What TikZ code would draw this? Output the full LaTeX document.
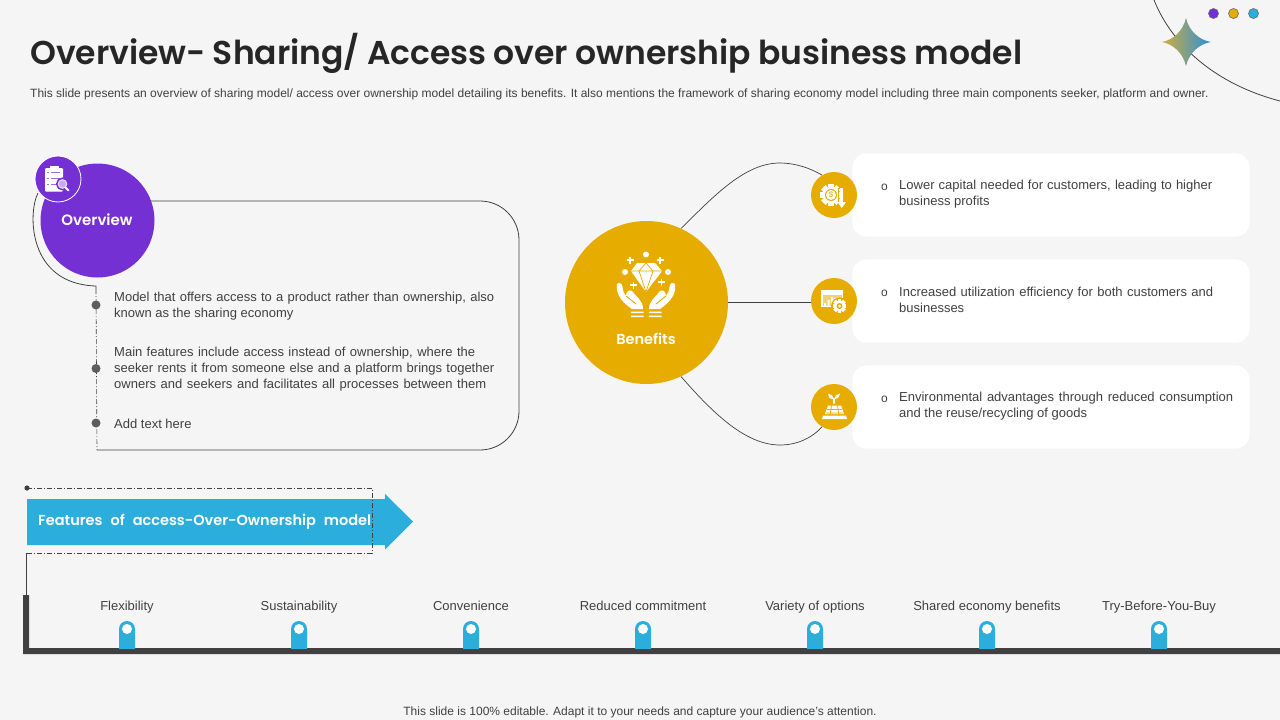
\documentclass[tikz,border=0pt]{standalone}
\usepackage{fontspec}
\setmainfont{Liberation Sans}
\newfontfamily\headfont{Poppins}[BoldFont={Poppins SemiBold}]
\usetikzlibrary{calc}
\definecolor{bg}{HTML}{F5F5F5}
\definecolor{ink}{HTML}{404040}
\definecolor{titleink}{HTML}{262626}
\definecolor{purp}{HTML}{7430D2}
\definecolor{gold}{HTML}{E7AC00}
\definecolor{sky}{HTML}{2CAEDD}
\definecolor{starl}{HTML}{D2AE3C}
\definecolor{starm}{HTML}{55B2A4}
\definecolor{starr}{HTML}{2A8FDC}
\newcommand{\fs}[1]{\fontsize{#1}{#1}\selectfont}
\newcommand{\jl}[2]{\makebox[#1pt][s]{#2}}
\newcommand{\gearshape}[4]{% x y r colour
  \fill[#4] (#1,#2) circle (#3);
  \foreach \a in {0,45,...,315}{\fill[#4,rotate around={\a:(#1,#2)}] (#1-0.36*#3,#2-1.28*#3) rectangle (#1+0.36*#3,#2-0.7*#3);}
}
\tikzset{
  x=1pt,y=-1pt,
  txt/.style={anchor=west,inner sep=0pt,text=ink,font=\fs{13}},
  ctr/.style={anchor=base,inner sep=0pt,text=ink,font=\fs{13}},
  conn/.style={draw=ink,line width=0.8pt},
  ddash/.style={draw=ink,line width=0.6pt,dash pattern=on 5pt off 2pt on 1pt off 2pt},
  bigc/.style={circle,inner sep=0pt,minimum size=#1},
  card/.style={fill=white,draw=black!4,line width=0.8pt,rounded corners=14pt},
  dotb/.style={circle,fill=ink!85,inner sep=0pt,minimum size=9pt},
  pinb/.style={fill=sky},
}
\begin{document}
\begin{tikzpicture}
\useasboundingbox (0,0) rectangle (1280,720);
\fill[bg] (0,0) rectangle (1280,720);

% header
\node[anchor=west,inner sep=0pt,text=titleink,font=\headfont\bfseries\fs{33}] (title) at (30,53) {\jl{992}{Overview- Sharing/ Access over ownership business model}};
\node[anchor=west,inner sep=0pt,text=ink,font=\fs{12}] (sub) at (30,94) {This slide presents an overview of sharing model/ access over ownership model detailing its benefits. It also mentions the framework of sharing economy model including three main components seeker, platform and owner.};
\draw[ink,line width=0.8pt] (1154,0) .. controls (1172,45) and (1215,84) .. (1280,101);
\shade[left color=starl,middle color=starm,right color=starr] (1162,42) .. controls (1173,40) and (1183,31) .. (1186,18) .. controls (1189,31) and (1199,40) .. (1211,42) .. controls (1199,44) and (1189,53) .. (1186,66) .. controls (1183,53) and (1173,44) .. (1162,42) -- cycle;
\node[circle,fill=purp,draw=black!60,line width=0.6pt,inner sep=0pt,minimum size=10pt] (d1) at (1213.5,13.5) {};
\node[circle,fill=gold,draw=black!60,line width=0.6pt,inner sep=0pt,minimum size=10pt] (d2) at (1233.5,13.5) {};
\node[circle,fill=sky,draw=black!60,line width=0.6pt,inner sep=0pt,minimum size=10pt] (d3) at (1253.5,13.5) {};

% overview panel
\node[bigc=114pt,fill=purp] (ov) at (97.5,220.5) {};
\node[text=white,inner sep=0pt,font=\headfont\bfseries\fs{15}] (ovt) at (97,220) {Overview};
\coordinate (pa) at (150,201);
\coordinate (pb) at (97,450);
\coordinate (arcs) at (38,193);
\coordinate (arce) at (96,286);
\draw[conn] (pa) -- (480,201) arc[start angle=-90,end angle=0,radius=39] -- (519,411) arc[start angle=0,end angle=90,radius=39] -- (pb);
\draw[conn] (arcs) .. controls (28,212) and (27,284) .. (arce) -- ++(0,3);
\draw[ddash] (arce) ++(0,3) -- (pb);
\node[bigc=46pt,fill=purp,draw=white,line width=0.8pt] (ovi) at (58,179) {};
% clipboard icon
\fill[white,rounded corners=1pt] (45,168) rectangle (63,191.5);
\fill[white] (49.5,166) rectangle (58.5,169);
\foreach \y in {172,178,184}{\fill[purp!70] (47,\y) rectangle (49,\y+1); \fill[purp!70] (50.5,\y) rectangle (60,\y+1);}
\draw[purp,line width=2pt,fill=purp] (62.5,184) circle (5.5);
\draw[white!85!purp,line width=1pt,fill=purp!40!white] (62.5,184) circle (4.3);
\draw[white,line width=2pt,line cap=round] (65.5,187.5) -- (68.5,190.5);

\node[dotb] (b1) at (96,305) {};
\node[dotb] (b2) at (96,368.5) {};
\node[dotb] (b3) at (96,423) {};
\node[txt,align=left] (t1) at (114,306) {\jl{380}{Model that offers access to a product rather than ownership, also}\\[3pt]known as the sharing economy};
\node[txt,align=left] (t2) at (114,369) {\jl{361}{Main features include access instead of ownership, where the}\\[3pt]\jl{380}{seeker rents it from someone else and a platform brings together}\\[3pt]\jl{372}{owners and seekers and facilitates all processes between them}};
\node[txt] (t3) at (114,424) {Add text here};

% cards
\node[card,minimum width=398pt,minimum height=84pt,inner sep=0pt] (c1) at (1051,195) {};
\node[card,minimum width=398pt,minimum height=84pt,inner sep=0pt] (c2) at (1051,301) {};
\node[card,minimum width=398pt,minimum height=84pt,inner sep=0pt] (c3) at (1051,407) {};

% benefits
\node[bigc=163pt,fill=gold] (ben) at (646.5,302.5) {};
\node[text=white,inner sep=0pt,font=\headfont\bfseries\fs{14.5}] (bent) at (646,339) {Benefits};
\node[bigc=46pt,fill=gold] (ic1) at (834,195) {};
\node[bigc=46pt,fill=gold] (ic2) at (834,301) {};
\node[bigc=46pt,fill=gold] (ic3) at (834,407) {};
\draw[conn,line width=0.7pt] (ben.65) .. controls (715,195) and (745,163) .. (780,163) .. controls (795,163) and (810,168) .. (ic1.121);
\draw[conn] (ben.east) -- (ben.east -| ic2.west);
\draw[conn,line width=0.7pt] (ben.-65) .. controls (712,412) and (745,445) .. (780,445) .. controls (797,445) and (812,438) .. (ic3.-121);

% diamond and hands
\fill[white] (637,263) -- (655,263) -- (662,271) -- (646,292) -- (631,271) -- cycle;
\draw[gold,line width=0.7pt] (631,271) -- (662,271) (639,271) -- (646,292) -- (653,271) -- (646,263) -- cycle;
\fill[white] (646,254.5) circle (3) (625,272) circle (3) (668,272) circle (3);
\foreach \p/\q in {630/260,660/260,633.5/285,661.5/282}{\draw[white,line width=1.2pt] (\p-3.5,\q) -- (\p+3.5,\q) (\p,\q-3.5) -- (\p,\q+3.5);}
\fill[white] (617,284) .. controls (619,282) and (622,283) .. (622.5,287) .. controls (623,291) and (624,294) .. (626,296) .. controls (626,292) and (629,289) .. (632,291) .. controls (636,297) and (643,300) .. (643,309) -- (632,309) .. controls (625,304) and (615,296) .. (617,284) -- cycle;
\fill[white] (675,284) .. controls (673,282) and (670,283) .. (669.5,287) .. controls (669,291) and (668,294) .. (666,296) .. controls (666,292) and (663,289) .. (660,291) .. controls (656,297) and (649,300) .. (649,309) -- (660,309) .. controls (667,304) and (677,296) .. (675,284) -- cycle;
\draw[gold,line width=0.9pt] (626,296) -- (636,304) (666,296) -- (656,304);
\fill[white] (631,311.5) rectangle (643.5,313) (631,315.5) rectangle (643.5,317) (649,311.5) rectangle (661.5,313) (649,315.5) rectangle (661.5,317);

% icon 1: gear with dollar and arrow
\gearshape{831}{195}{8.5}{white}
\fill[gold] (831,195) circle (6);
\fill[white] (831,195) circle (5);
\node[text=gold,inner sep=0pt,font=\fs{8}] (dollar) at (831,195) {\$};
\draw[gold,line width=1pt] (841.7,188) -- (838.5,188) -- (838.5,203);
\fill[white] (840.2,188) rectangle (843.2,203);
\fill[white] (837.5,202) -- (846,202) -- (841.7,208) -- cycle;

% icon 2: chart with gear
\fill[white] (821,290) rectangle (843,307);
\fill[gold!55!white] (822.5,295) rectangle (841.5,305.5);
\fill[white] (833,298) rectangle (842,299) (833,301) rectangle (842,302);
\fill[white] (824,306) rectangle (826,303) (827.5,306) rectangle (829.5,300) (831,306) rectangle (833,297);
\fill[gold] (839.5,306) circle (8.5);
\gearshape{839.5}{306}{5.4}{white}
\fill[gold] (839.5,306) circle (3);
\fill[white] (839.5,306) circle (1.5);

% icon 3: plant and base
\fill[white] (828,405.5) -- (841,405.5) -- (844,414) -- (825,414) -- cycle;
\fill[white] (823,415.5) -- (846,415.5) -- (847,419) -- (822,419) -- cycle;
\draw[gold,line width=0.8pt] (831.5,405.5) -- (830,415.5) (837.5,405.5) -- (839,415.5) (827,409.5) -- (842,409.5) (826,413) -- (843,413);
\fill[white] (834,403.5) -- (833.2,403.5) -- (833.2,399) .. controls (829,399) and (828,396) .. (828,393.5) .. controls (831,394) and (833.5,396) .. (834,399) .. controls (834.5,396) and (837,394) .. (840,393.5) .. controls (840,396) and (838,399) .. (834.8,399) -- (834.8,403.5) -- cycle;

% card texts
\node[txt] (o1) at (881,187) {\fs{12}o};
\node[txt] (o2) at (881,293) {\fs{12}o};
\node[txt] (o3) at (881,399) {\fs{12}o};
\node[txt,align=left] (c1t) at (899,194) {\jl{313}{Lower capital needed for customers, leading to higher}\\[3pt]business profits};
\node[txt,align=left] (c2t) at (899,300) {\jl{314}{Increased utilization efficiency for both customers and}\\[3pt]businesses};
\node[txt,align=left] (c3t) at (899,406) {\jl{334}{Environmental advantages through reduced consumption}\\[3pt]and the reuse/recycling of goods};

% features arrow
\coordinate (fa) at (27,488);
\coordinate (fb) at (372,553);
\fill[sky] (27,499) -- (385,499) -- (385,494) -- (413,521.5) -- (385,549.5) -- (385,545) -- (27,545) -- cycle;
\node[anchor=west,inner sep=0pt,text=white,font=\headfont\bfseries\fs{14.5}] (ft) at (38,522) {\jl{333}{Features of access-Over-Ownership model}};
\draw[ddash] (fa) -- (fa -| fb) -- (fb) -- (fb -| fa);
\fill[ink] (fa) circle (2.6);

% timeline
\coordinate (tl) at (26,595);
\draw[ink,line width=0.9pt] (fb -| fa) ++(-1,0) -- (tl);
\fill[ink] (23,595) rectangle (29,654) (23,648) rectangle (1280,654);
\foreach \x/\lab/\nm in {127/Flexibility/f1,299/Sustainability/f2,471/Convenience/f3,643/Reduced commitment/f4,815/Variety of options/f5,987/Shared economy benefits/f6,1159/Try-Before-You-Buy/f7}{
  \node[ctr] (\nm) at (\x,610) {\lab};
  \fill[pinb] (\x-8,649) -- (\x-8,629) arc[start angle=180,end angle=360,radius=8] -- (\x+8,649) -- cycle;
  \fill[white] (\x,629) circle (5);
}

\node[ctr,font=\fs{12}] (foot) at (640,715) {This slide is 100\% editable. Adapt it to your needs and capture your audience's attention.};
\end{tikzpicture}
\end{document}
